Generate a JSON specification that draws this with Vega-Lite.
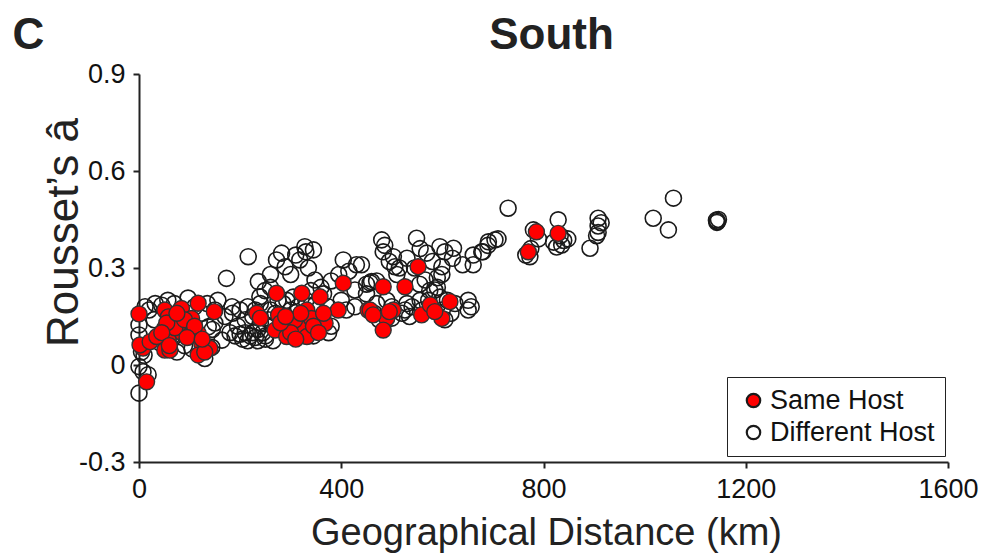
{
  "$schema": "https://vega.github.io/schema/vega-lite/v6.json",
  "autosize": {"type": "none"},
  "width": 809,
  "height": 388,
  "padding": {"left": 139, "top": 74, "right": 40, "bottom": 96},
  "background": "white",
  "config": {"view": {"stroke": null}, "font": "Liberation Sans"},
  "data": {"values": [
    {"km":0,"a":0.158,"host":"Same Host"},{"km":8,"a":0.052,"host":"Same Host"},{"km":2,"a":0.062,"host":"Same Host"},{"km":22,"a":0.072,"host":"Same Host"},{"km":15,"a":-0.052,"host":"Same Host"},{"km":51,"a":0.17,"host":"Same Host"},{"km":58,"a":0.149,"host":"Same Host"},{"km":84,"a":0.175,"host":"Same Host"},{"km":117,"a":0.191,"host":"Same Host"},{"km":104,"a":0.144,"host":"Same Host"},{"km":149,"a":0.165,"host":"Same Host"},{"km":51,"a":0.114,"host":"Same Host"},{"km":81,"a":0.103,"host":"Same Host"},{"km":58,"a":0.077,"host":"Same Host"},{"km":51,"a":0.046,"host":"Same Host"},{"km":101,"a":0.093,"host":"Same Host"},{"km":117,"a":0.098,"host":"Same Host"},{"km":124,"a":0.067,"host":"Same Host"},{"km":140,"a":0.052,"host":"Same Host"},{"km":117,"a":0.031,"host":"Same Host"},{"km":71,"a":0.115,"host":"Same Host"},{"km":35,"a":0.088,"host":"Same Host"},{"km":61,"a":0.046,"host":"Same Host"},{"km":55,"a":0.13,"host":"Same Host"},{"km":90,"a":0.14,"host":"Same Host"},{"km":110,"a":0.12,"host":"Same Host"},{"km":130,"a":0.04,"host":"Same Host"},{"km":45,"a":0.1,"host":"Same Host"},{"km":75,"a":0.16,"host":"Same Host"},{"km":95,"a":0.085,"host":"Same Host"},{"km":125,"a":0.08,"host":"Same Host"},{"km":60,"a":0.06,"host":"Same Host"},
    {"km":233,"a":0.16,"host":"Same Host"},{"km":272,"a":0.222,"host":"Same Host"},{"km":276,"a":0.155,"host":"Same Host"},{"km":269,"a":0.108,"host":"Same Host"},{"km":292,"a":0.088,"host":"Same Host"},{"km":322,"a":0.222,"host":"Same Host"},{"km":358,"a":0.211,"host":"Same Host"},{"km":332,"a":0.17,"host":"Same Host"},{"km":315,"a":0.118,"host":"Same Host"},{"km":332,"a":0.088,"host":"Same Host"},{"km":358,"a":0.144,"host":"Same Host"},{"km":368,"a":0.129,"host":"Same Host"},{"km":394,"a":0.17,"host":"Same Host"},{"km":404,"a":0.253,"host":"Same Host"},{"km":308,"a":0.139,"host":"Same Host"},{"km":341,"a":0.144,"host":"Same Host"},{"km":453,"a":0.17,"host":"Same Host"},{"km":300,"a":0.1,"host":"Same Host"},{"km":345,"a":0.12,"host":"Same Host"},{"km":280,"a":0.13,"host":"Same Host"},{"km":320,"a":0.16,"host":"Same Host"},{"km":355,"a":0.1,"host":"Same Host"},{"km":290,"a":0.15,"host":"Same Host"},{"km":240,"a":0.145,"host":"Same Host"},{"km":365,"a":0.16,"host":"Same Host"},{"km":310,"a":0.08,"host":"Same Host"},
    {"km":552,"a":0.304,"host":"Same Host"},{"km":483,"a":0.242,"host":"Same Host"},{"km":526,"a":0.242,"host":"Same Host"},{"km":457,"a":0.17,"host":"Same Host"},{"km":503,"a":0.17,"host":"Same Host"},{"km":490,"a":0.144,"host":"Same Host"},{"km":483,"a":0.108,"host":"Same Host"},{"km":463,"a":0.155,"host":"Same Host"},{"km":559,"a":0.155,"host":"Same Host"},{"km":576,"a":0.186,"host":"Same Host"},{"km":615,"a":0.196,"host":"Same Host"},{"km":599,"a":0.144,"host":"Same Host"},{"km":495,"a":0.165,"host":"Same Host"},{"km":585,"a":0.165,"host":"Same Host"},
    {"km":786,"a":0.412,"host":"Same Host"},{"km":829,"a":0.407,"host":"Same Host"},{"km":770,"a":0.35,"host":"Same Host"},
    {"km":0,"a":0.124,"host":"Different Host"},{"km":0,"a":0.093,"host":"Different Host"},{"km":0,"a":-0.005,"host":"Different Host"},{"km":8,"a":-0.021,"host":"Different Host"},{"km":0,"a":-0.087,"host":"Different Host"},{"km":12,"a":0.18,"host":"Different Host"},{"km":32,"a":0.19,"host":"Different Host"},{"km":57,"a":0.2,"host":"Different Host"},{"km":97,"a":0.207,"host":"Different Host"},{"km":156,"a":0.2,"host":"Different Host"},{"km":184,"a":0.18,"host":"Different Host"},{"km":137,"a":0.118,"host":"Different Host"},{"km":145,"a":0.11,"host":"Different Host"},{"km":164,"a":0.077,"host":"Different Host"},{"km":30,"a":0.14,"host":"Different Host"},{"km":144,"a":0.055,"host":"Different Host"},{"km":173,"a":0.268,"host":"Different Host"},{"km":5,"a":0.04,"host":"Different Host"},{"km":20,"a":0.17,"host":"Different Host"},{"km":45,"a":0.185,"host":"Different Host"},{"km":70,"a":0.19,"host":"Different Host"},{"km":85,"a":0.12,"host":"Different Host"},{"km":110,"a":0.18,"host":"Different Host"},{"km":125,"a":0.16,"host":"Different Host"},{"km":135,"a":0.19,"host":"Different Host"},{"km":150,"a":0.13,"host":"Different Host"},{"km":65,"a":0.08,"host":"Different Host"},{"km":90,"a":0.06,"host":"Different Host"},{"km":105,"a":0.05,"host":"Different Host"},{"km":130,"a":0.02,"host":"Different Host"},{"km":10,"a":0.03,"host":"Different Host"},{"km":40,"a":0.07,"host":"Different Host"},{"km":75,"a":0.04,"host":"Different Host"},{"km":150,"a":0.17,"host":"Different Host"},{"km":170,"a":0.15,"host":"Different Host"},{"km":18,"a":-0.03,"host":"Different Host"},
    {"km":190,"a":0.09,"host":"Different Host"},{"km":200,"a":0.095,"host":"Different Host"},{"km":210,"a":0.1,"host":"Different Host"},{"km":220,"a":0.09,"host":"Different Host"},{"km":230,"a":0.085,"host":"Different Host"},{"km":205,"a":0.08,"host":"Different Host"},{"km":215,"a":0.075,"host":"Different Host"},{"km":225,"a":0.1,"host":"Different Host"},{"km":235,"a":0.11,"host":"Different Host"},{"km":245,"a":0.1,"host":"Different Host"},{"km":250,"a":0.09,"host":"Different Host"},{"km":195,"a":0.12,"host":"Different Host"},{"km":210,"a":0.14,"host":"Different Host"},{"km":225,"a":0.15,"host":"Different Host"},{"km":240,"a":0.13,"host":"Different Host"},{"km":255,"a":0.14,"host":"Different Host"},{"km":260,"a":0.17,"host":"Different Host"},{"km":215,"a":0.18,"host":"Different Host"},{"km":230,"a":0.17,"host":"Different Host"},{"km":200,"a":0.17,"host":"Different Host"},{"km":185,"a":0.16,"host":"Different Host"},{"km":240,"a":0.19,"host":"Different Host"},{"km":250,"a":0.08,"host":"Different Host"},{"km":265,"a":0.075,"host":"Different Host"},{"km":180,"a":0.1,"host":"Different Host"},{"km":235,"a":0.075,"host":"Different Host"},
    {"km":216,"a":0.335,"host":"Different Host"},{"km":282,"a":0.346,"host":"Different Host"},{"km":289,"a":0.304,"host":"Different Host"},{"km":272,"a":0.325,"host":"Different Host"},{"km":328,"a":0.366,"host":"Different Host"},{"km":345,"a":0.356,"host":"Different Host"},{"km":318,"a":0.325,"host":"Different Host"},{"km":335,"a":0.3,"host":"Different Host"},{"km":404,"a":0.325,"host":"Different Host"},{"km":430,"a":0.31,"host":"Different Host"},{"km":236,"a":0.258,"host":"Different Host"},{"km":348,"a":0.263,"host":"Different Host"},{"km":360,"a":0.24,"host":"Different Host"},{"km":427,"a":0.232,"host":"Different Host"},{"km":450,"a":0.25,"host":"Different Host"},{"km":239,"a":0.211,"host":"Different Host"},{"km":249,"a":0.23,"host":"Different Host"},{"km":427,"a":0.18,"host":"Different Host"},{"km":292,"a":0.2,"host":"Different Host"},{"km":380,"a":0.12,"host":"Different Host"},{"km":374,"a":0.18,"host":"Different Host"},{"km":300,"a":0.28,"host":"Different Host"},{"km":310,"a":0.34,"host":"Different Host"},{"km":260,"a":0.28,"host":"Different Host"},{"km":330,"a":0.35,"host":"Different Host"},{"km":415,"a":0.29,"host":"Different Host"},{"km":380,"a":0.26,"host":"Different Host"},{"km":395,"a":0.28,"host":"Different Host"},{"km":260,"a":0.24,"host":"Different Host"},{"km":285,"a":0.19,"host":"Different Host"},{"km":305,"a":0.21,"host":"Different Host"},{"km":330,"a":0.2,"host":"Different Host"},{"km":350,"a":0.19,"host":"Different Host"},{"km":275,"a":0.2,"host":"Different Host"},{"km":315,"a":0.18,"host":"Different Host"},{"km":400,"a":0.2,"host":"Different Host"},{"km":410,"a":0.17,"host":"Different Host"},{"km":365,"a":0.22,"host":"Different Host"},{"km":340,"a":0.23,"host":"Different Host"},{"km":290,"a":0.11,"host":"Different Host"},{"km":305,"a":0.13,"host":"Different Host"},{"km":330,"a":0.11,"host":"Different Host"},{"km":350,"a":0.14,"host":"Different Host"},{"km":375,"a":0.1,"host":"Different Host"},{"km":265,"a":0.12,"host":"Different Host"},{"km":345,"a":0.09,"host":"Different Host"},{"km":320,"a":0.1,"host":"Different Host"},{"km":300,"a":0.17,"host":"Different Host"},{"km":270,"a":0.16,"host":"Different Host"},{"km":360,"a":0.13,"host":"Different Host"},{"km":457,"a":0.254,"host":"Different Host"},
    {"km":480,"a":0.387,"host":"Different Host"},{"km":486,"a":0.37,"host":"Different Host"},{"km":483,"a":0.35,"host":"Different Host"},{"km":549,"a":0.392,"host":"Different Host"},{"km":556,"a":0.36,"host":"Different Host"},{"km":569,"a":0.346,"host":"Different Host"},{"km":595,"a":0.366,"host":"Different Host"},{"km":605,"a":0.35,"host":"Different Host"},{"km":622,"a":0.361,"host":"Different Host"},{"km":503,"a":0.335,"host":"Different Host"},{"km":506,"a":0.304,"host":"Different Host"},{"km":510,"a":0.28,"host":"Different Host"},{"km":599,"a":0.304,"host":"Different Host"},{"km":599,"a":0.28,"host":"Different Host"},{"km":580,"a":0.32,"host":"Different Host"},{"km":661,"a":0.34,"host":"Different Host"},{"km":678,"a":0.35,"host":"Different Host"},{"km":691,"a":0.381,"host":"Different Host"},{"km":661,"a":0.31,"host":"Different Host"},{"km":440,"a":0.31,"host":"Different Host"},{"km":460,"a":0.258,"host":"Different Host"},{"km":566,"a":0.263,"host":"Different Host"},{"km":585,"a":0.232,"host":"Different Host"},{"km":590,"a":0.24,"host":"Different Host"},{"km":556,"a":0.2,"host":"Different Host"},{"km":573,"a":0.2,"host":"Different Host"},{"km":526,"a":0.17,"host":"Different Host"},{"km":520,"a":0.16,"host":"Different Host"},{"km":535,"a":0.15,"host":"Different Host"},{"km":651,"a":0.2,"host":"Different Host"},{"km":651,"a":0.17,"host":"Different Host"},{"km":657,"a":0.18,"host":"Different Host"},{"km":470,"a":0.19,"host":"Different Host"},{"km":490,"a":0.2,"host":"Different Host"},{"km":500,"a":0.18,"host":"Different Host"},{"km":617,"a":0.16,"host":"Different Host"},{"km":530,"a":0.33,"host":"Different Host"},{"km":545,"a":0.3,"host":"Different Host"},{"km":495,"a":0.32,"host":"Different Host"},{"km":470,"a":0.26,"host":"Different Host"},{"km":590,"a":0.27,"host":"Different Host"},{"km":620,"a":0.33,"host":"Different Host"},{"km":640,"a":0.31,"host":"Different Host"},{"km":540,"a":0.18,"host":"Different Host"},{"km":600,"a":0.17,"host":"Different Host"},{"km":610,"a":0.2,"host":"Different Host"},{"km":560,"a":0.17,"host":"Different Host"},{"km":515,"a":0.3,"host":"Different Host"},{"km":450,"a":0.22,"host":"Different Host"},{"km":465,"a":0.16,"host":"Different Host"},{"km":530,"a":0.19,"host":"Different Host"},{"km":575,"a":0.23,"host":"Different Host"},{"km":595,"a":0.21,"host":"Different Host"},{"km":625,"a":0.19,"host":"Different Host"},{"km":605,"a":0.14,"host":"Different Host"},{"km":500,"a":0.145,"host":"Different Host"},{"km":555,"a":0.25,"host":"Different Host"},{"km":475,"a":0.14,"host":"Different Host"},
    {"km":730,"a":0.485,"host":"Different Host"},{"km":780,"a":0.418,"host":"Different Host"},{"km":829,"a":0.449,"host":"Different Host"},{"km":833,"a":0.4,"host":"Different Host"},{"km":836,"a":0.371,"host":"Different Host"},{"km":826,"a":0.365,"host":"Different Host"},{"km":773,"a":0.335,"host":"Different Host"},{"km":848,"a":0.39,"host":"Different Host"},{"km":892,"a":0.361,"host":"Different Host"},{"km":908,"a":0.454,"host":"Different Host"},{"km":908,"a":0.43,"host":"Different Host"},{"km":914,"a":0.44,"host":"Different Host"},{"km":905,"a":0.4,"host":"Different Host"},{"km":908,"a":0.41,"host":"Different Host"},{"km":1017,"a":0.454,"host":"Different Host"},{"km":1057,"a":0.516,"host":"Different Host"},{"km":1047,"a":0.418,"host":"Different Host"},{"km":1142,"a":0.448,"host":"Different Host"},{"km":1144,"a":0.444,"host":"Different Host"},{"km":1146,"a":0.45,"host":"Different Host"},{"km":1143,"a":0.441,"host":"Different Host"},{"km":704,"a":0.387,"host":"Different Host"},{"km":690,"a":0.37,"host":"Different Host"},{"km":680,"a":0.35,"host":"Different Host"},{"km":775,"a":0.36,"host":"Different Host"},{"km":790,"a":0.39,"host":"Different Host"},{"km":820,"a":0.38,"host":"Different Host"},{"km":840,"a":0.385,"host":"Different Host"},{"km":710,"a":0.39,"host":"Different Host"},{"km":765,"a":0.34,"host":"Different Host"}
  ]},
  "layer": [
    {
      "transform": [{"filter": "datum.host == 'Different Host'"}],
      "mark": {"type": "point", "filled": true, "size": 255, "stroke": "#1a1a1a", "strokeWidth": 1.6, "opacity": 1},
      "encoding": {
        "x": {"field": "km", "type": "quantitative", "scale": {"domain": [0, 1600], "nice": false, "zero": false},
          "axis": {"orient": "bottom", "values": [0, 400, 800, 1200, 1600], "format": "d", "grid": false, "domainColor": "#222", "domainWidth": 2, "tickColor": "#222", "tickWidth": 2, "tickSize": 6, "labelFontSize": 27, "labelColor": "#111", "labelPadding": 8, "labelFlush": false, "labelOverlap": false, "labelBound": false,
            "title": "Geographical Distance (km)", "titleFontSize": 38, "titleFontWeight": "normal", "titleColor": "#222", "titleX": 407, "titleY": 82, "titleAlign": "center", "titleBaseline": "alphabetic"}},
        "y": {"field": "a", "type": "quantitative", "scale": {"domain": [-0.3, 0.9], "nice": false, "zero": false},
          "axis": {"orient": "left", "values": [-0.3, 0, 0.3, 0.6, 0.9], "grid": false, "domainColor": "#222", "domainWidth": 2, "tickColor": "#222", "tickWidth": 2, "tickSize": 6, "labelFontSize": 27, "labelColor": "#111", "labelPadding": 8, "labelFlush": false, "labelOverlap": false, "labelBound": false,
            "labelExpr": "datum.value == 0 ? '0' : (datum.value < 0 ? '-' + format(-datum.value, '.1f') : format(datum.value, '.1f'))",
            "title": "Rousset’s â", "titleFontSize": 44, "titleFontWeight": "normal", "titleColor": "#222", "titleAngle": -90, "titleX": -62, "titleY": 158, "titleAlign": "center", "titleBaseline": "alphabetic"}},
        "fill": {"field": "host", "type": "nominal", "scale": {"domain": ["Same Host", "Different Host"], "range": ["#ff0000", "rgba(255,255,255,0)"]},
          "legend": {"orient": "none", "legendX": 588, "legendY": 303, "title": null, "padding": 10, "strokeColor": "#222", "fillColor": "white", "labelFontSize": 27, "labelColor": "#111", "labelLimit": 400, "symbolSize": 180, "symbolType": "circle", "symbolStrokeColor": "#1a1a1a", "symbolStrokeWidth": 2.2, "symbolOffset": 3, "labelOffset": 3, "rowPadding": 4}}
      }
    },
    {
      "transform": [{"filter": "datum.host == 'Same Host'"}],
      "mark": {"type": "point", "filled": true, "size": 255, "stroke": "#333", "strokeWidth": 1.4, "opacity": 1},
      "encoding": {
        "x": {"field": "km", "type": "quantitative", "axis": {"orient": "top", "domain": false, "ticks": false, "labels": false, "grid": false, "title": "South", "titleFontSize": 44, "titleFontWeight": "bold", "titleColor": "#222", "titleX": 412, "titleY": -26, "titleAlign": "center", "titleBaseline": "alphabetic"}},
        "y": {"field": "a", "type": "quantitative", "axis": {"orient": "left", "domain": false, "ticks": false, "labels": false, "grid": false, "title": "C", "titleFontSize": 44, "titleFontWeight": "bold", "titleColor": "#222", "titleAngle": 0, "titleX": -127, "titleY": -26, "titleAlign": "left", "titleBaseline": "alphabetic"}},
        "fill": {"field": "host", "type": "nominal"}
      }
    }
  ],
  "resolve": {"axis": {"x": "independent", "y": "independent"}}
}
